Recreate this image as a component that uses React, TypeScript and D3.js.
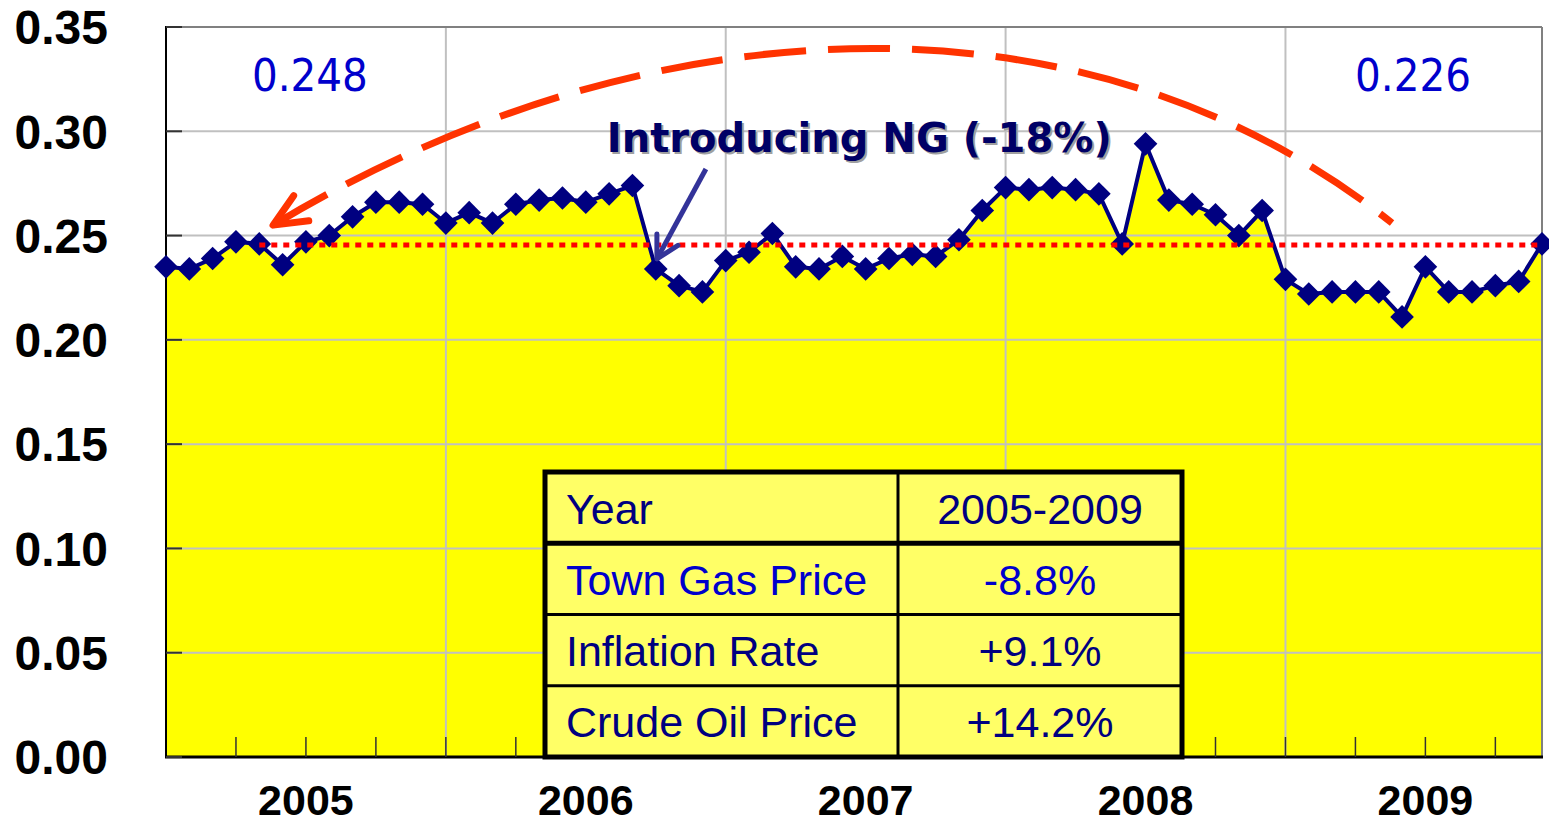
import React from 'react';
import * as d3 from 'd3';

// monthly categories Jan 2005 .. Dec 2009
const months = d3.timeMonth.range(new Date(2005, 0, 1), new Date(2010, 0, 1));

// town gas tariff
const townGasPrice = [
  0.235, 0.234, 0.239, 0.247, 0.246, 0.236, 0.247, 0.250, 0.259, 0.266, 0.266, 0.265,
  0.256, 0.261, 0.256, 0.265, 0.267, 0.268, 0.266, 0.270, 0.274, 0.234, 0.226, 0.223,
  0.238, 0.242, 0.251, 0.235, 0.234, 0.240, 0.234, 0.239, 0.241, 0.240, 0.248, 0.262,
  0.273, 0.272, 0.273, 0.272, 0.270, 0.246, 0.294, 0.267, 0.265, 0.260, 0.250, 0.262,
  0.229, 0.222, 0.223, 0.223, 0.223, 0.211, 0.235, 0.223, 0.223, 0.226, 0.228, 0.246,
];

const yearLabels = ['2005', '2006', '2007', '2008', '2009'];
const yTicks = [0, 0.05, 0.1, 0.15, 0.2, 0.25, 0.3, 0.35];
const refLevel = 0.2455;
const periodLabels = ['0.248', '0.226'];
const ngNote = 'Introducing NG (-18%)';

const tableLabels = ['Year', 'Town Gas Price', 'Inflation Rate', 'Crude Oil Price'];
const tableValues = ['2005-2009', '-8.8%', '+9.1%', '+14.2%'];

const W = 1549;
const H = 826;
const M = { left: 166, right: 7, top: 27, bottom: 69 };

const arial = 'Liberation Sans, Arial, Helvetica, sans-serif';
const verdana = 'DejaVu Sans, Verdana, sans-serif';

// open V arrowhead at (tx,ty), pointing away from (fx,fy)
function arrowHead(tx: number, ty: number, fx: number, fy: number, len: number, spread: number) {
  const a = Math.atan2(fy - ty, fx - tx);
  const a1 = a - spread;
  const a2 = a + spread;
  return `M${tx + len * Math.cos(a1)},${ty + len * Math.sin(a1)}L${tx},${ty}L${tx + len * Math.cos(a2)},${ty + len * Math.sin(a2)}`;
}

export default function App() {
  const x = d3.scaleLinear().domain([0, months.length - 1]).range([M.left, W - M.right]);
  const y = d3.scaleLinear().domain([0, 0.35]).range([H - M.bottom, M.top]);

  const area = d3.area<number>()
    .x((_, i) => x(i))
    .y0(y(0))
    .y1(d => y(d));
  const line = d3.line<number>()
    .x((_, i) => x(i))
    .y(d => y(d));

  const x0 = M.left;
  const x1 = W - M.right;
  const yTop = M.top;
  const yBot = H - M.bottom;

  // big dashed arc (data coords: index, value)
  const arcTip = [x(4.59), y(0.255)];
  const arcC1 = [x(20.88), y(0.3644)];
  const arcC2 = [x(39.7), y(0.3711)];
  const arcEnd = [x(52.57), y(0.256)];
  const arcPath = `M${arcTip[0]},${arcTip[1]}C${arcC1[0]},${arcC1[1]} ${arcC2[0]},${arcC2[1]} ${arcEnd[0]},${arcEnd[1]}`;

  // NG arrow
  const ngFrom = [x(23.15), y(0.2819)];
  const ngTip = [x(21.05), y(0.2388)];

  // table layout
  const tb = { left: 545, right: 1182, top: 472, bottom: 757, split: 898 };
  const rowH = (tb.bottom - tb.top) / tableLabels.length;

  const diamond = d3.symbol(d3.symbolSquare, 280)();

  return (
    <div style={{ position: 'absolute', left: 0, top: 0, width: W, height: H, background: '#fff' }}>
      <svg width={W} height={H} style={{ display: 'block' }}>
        {/* area */}
        <path d={area(townGasPrice) || ''} fill="#FFFF00" />

        {/* grid */}
        {yTicks.filter(t => t > 0 && t < 0.35).map(t => (
          <line key={'h' + t} x1={x0} x2={x1} y1={y(t)} y2={y(t)} stroke="#C0C0C0" strokeWidth={2} />
        ))}
        {months.map((m, i) => (i > 0 && i % 12 === 0 ? (
          <line key={'v' + i} x1={x(i)} x2={x(i)} y1={yTop} y2={yBot} stroke="#C0C0C0" strokeWidth={2} />
        ) : null))}

        {/* frame */}
        <line x1={x0} x2={x1} y1={yTop} y2={yTop} stroke="#808080" strokeWidth={2} />
        <line x1={x1} x2={x1} y1={yTop} y2={yBot} stroke="#808080" strokeWidth={2} />
        <line x1={x0} x2={x0} y1={yTop - 1} y2={yBot} stroke="#000" strokeWidth={2} />
        <line x1={x0 - 1} x2={x1 + 1} y1={yBot} y2={yBot} stroke="#000" strokeWidth={3} />

        {/* axis ticks (inside) */}
        {yTicks.map(t => (
          <line key={'yt' + t} x1={x0} x2={x0 + 16} y1={y(t)} y2={y(t)} stroke="#333" strokeWidth={2} />
        ))}
        {months.map((m, i) => (i > 0 && i % 3 === 0 ? (
          <line key={'xt' + i} x1={x(i)} x2={x(i)} y1={yBot} y2={yBot - 20} stroke="#333" strokeWidth={1.5} />
        ) : null))}

        {/* series */}
        <path d={line(townGasPrice) || ''} fill="none" stroke="#000080" strokeWidth={4} strokeLinejoin="round" />
        {townGasPrice.map((d, i) => (
          <path key={'m' + i} d={diamond} transform={`translate(${x(i)},${y(d)}) rotate(45)`} fill="#000080" />
        ))}

        {/* reference level */}
        <line x1={x(4)} x2={x1 - 2} y1={y(refLevel)} y2={y(refLevel)} stroke="#FF0000" strokeWidth={5} strokeDasharray="6 6" />

        {/* y labels */}
        {yTicks.map(t => (
          <text key={'yl' + t} x={108} y={y(t)} dy="0.36em" textAnchor="end" fontFamily={arial}
            fontWeight="bold" fontSize={48} fill="#000">{t.toFixed(2)}</text>
        ))}
        {/* x labels */}
        {yearLabels.map((l, k) => (
          <text key={'xl' + l} x={x(k * 12 + 6)} y={815} textAnchor="middle" fontFamily={arial}
            fontWeight="bold" fontSize={43} fill="#000">{l}</text>
        ))}

        {/* period averages */}
        <text x={x(6.17)} y={y(0.3193)} textAnchor="middle" fontFamily={verdana} fontSize={44}
          textLength={116} lengthAdjust="spacingAndGlyphs" fill="#0000CC">{periodLabels[0]}</text>
        <text x={x(53.47)} y={y(0.3193)} textAnchor="middle" fontFamily={verdana} fontSize={44}
          textLength={116} lengthAdjust="spacingAndGlyphs" fill="#0000CC">{periodLabels[1]}</text>

        {/* dashed arc */}
        <path d={arcPath} fill="none" stroke="#FF3300" strokeWidth={7} strokeDasharray="62 22" />
        <path d={arrowHead(arcTip[0], arcTip[1], arcC1[0], arcC1[1], 36, 0.42)} fill="none" stroke="#FF3300"
          strokeWidth={7} strokeLinecap="round" strokeLinejoin="round" />

        {/* NG note */}
        <text x={x(18.9) + 2} y={y(0.29) + 2} fontFamily={verdana} fontWeight="bold" fontSize={40}
          textLength={505} lengthAdjust="spacingAndGlyphs" fill="#A0A0A0">{ngNote}</text>
        <text x={x(18.9)} y={y(0.29)} fontFamily={verdana} fontWeight="bold" fontSize={40}
          textLength={505} lengthAdjust="spacingAndGlyphs" fill="#000066">{ngNote}</text>
        <line x1={ngFrom[0]} y1={ngFrom[1]} x2={ngTip[0]} y2={ngTip[1]} stroke="#333399" strokeWidth={5} />
        <path d={arrowHead(ngTip[0], ngTip[1], ngFrom[0], ngFrom[1], 25, 0.5)} fill="none" stroke="#333399"
          strokeWidth={5} strokeLinecap="round" strokeLinejoin="round" />

        {/* table */}
        <rect x={tb.left} y={tb.top} width={tb.right - tb.left} height={tb.bottom - tb.top} fill="#FFFF66" />
        {tableLabels.map((l, r) => {
          const cy = tb.top + rowH * (r + 0.5);
          const col = r === 1 ? '#0000CC' : '#000080';
          return (
            <g key={'row' + r}>
              <text x={566} y={cy + 16} fontFamily={arial} fontSize={43} fill={col}>{l}</text>
              <text x={(tb.split + tb.right) / 2} y={cy + 16} textAnchor="middle" fontFamily={arial}
                fontSize={43} fill={col}>{tableValues[r]}</text>
            </g>
          );
        })}
        {tableLabels.map((l, r) => (r > 0 ? (
          <line key={'rl' + r} x1={tb.left} x2={tb.right} y1={tb.top + rowH * r} y2={tb.top + rowH * r}
            stroke="#000" strokeWidth={r === 1 ? 5 : 3} />
        ) : null))}
        <line x1={tb.split} x2={tb.split} y1={tb.top} y2={tb.bottom} stroke="#000" strokeWidth={3} />
        <rect x={tb.left} y={tb.top} width={tb.right - tb.left} height={tb.bottom - tb.top} fill="none"
          stroke="#000" strokeWidth={5} />
      </svg>
    </div>
  );
}
